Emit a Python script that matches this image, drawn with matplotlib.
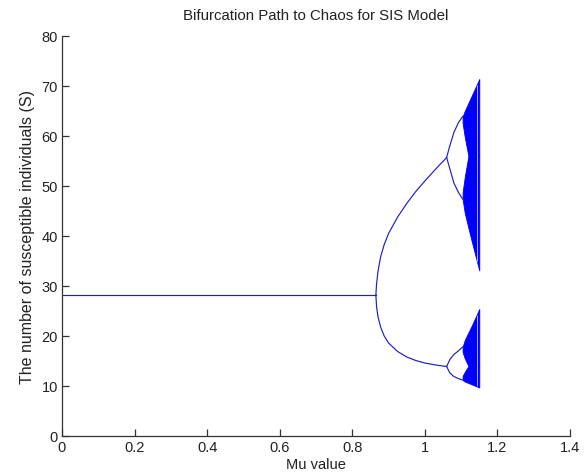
import matplotlib
matplotlib.use("Agg")
import matplotlib.pyplot as plt
import numpy as np

# ---- data ----
mu_flat = [0.0, 0.865]
s_flat = [28.2, 28.2]

mu_p2 = [0.865, 0.867, 0.871, 0.878, 0.888, 0.90, 0.925, 0.95, 0.975, 1.0, 1.03, 1.06]
s_p2_hi = [28.2, 30.5, 33.0, 35.8, 38.3, 40.5, 43.8, 46.5, 48.9, 51.0, 53.4, 55.7]
s_p2_lo = [28.2, 25.8, 23.8, 21.8, 20.0, 18.6, 16.9, 15.8, 15.1, 14.6, 14.2, 13.9]

mu_p4 = [1.06, 1.069, 1.08, 1.092, 1.104]
s_p4_hh = [55.7, 58.1, 60.7, 62.6, 63.9]
s_p4_hl = [55.7, 53.4, 50.6, 48.8, 47.4]
s_p4_lh = [13.9, 15.3, 16.3, 17.0, 17.8]
s_p4_ll = [13.9, 12.6, 11.9, 11.5, 11.2]

mu_ch = [1.104, 1.11, 1.12, 1.13, 1.14, 1.15]
up_top = [63.9, 65.0, 66.6, 68.2, 69.8, 71.4]
up_gap_top = [62.6, 59.8, 56.0, 56.0, 56.0, 56.0]
up_gap_bot = [48.7, 51.8, 56.0, 56.0, 56.0, 56.0]
up_bot = [47.4, 44.6, 41.6, 38.7, 35.9, 33.1]

lo_top = [17.8, 19.2, 20.7, 22.2, 23.8, 25.4]
lo_gap_top = [16.8, 15.5, 14.0, 14.0, 14.0, 14.0]
lo_gap_bot = [12.0, 12.8, 14.0, 14.0, 14.0, 14.0]
lo_bot = [11.2, 10.9, 10.6, 10.3, 10.0, 9.7]

mu_stripe = 1.143

x_ticks = [0, 0.2, 0.4, 0.6, 0.8, 1.0, 1.2, 1.4]
x_labels = ["0", "0.2", "0.4", "0.6", "0.8", "1", "1.2", "1.4"]
y_ticks = [0, 10, 20, 30, 40, 50, 60, 70, 80]

plt.rcParams['font.family'] = ['Liberation Sans', 'DejaVu Sans']

fig = plt.figure(figsize=(5.88, 4.77), dpi=100)
ax = fig.add_axes([62/588, 40/477, 508/588, 400/477])

lc = (0.12, 0.12, 0.78)
lw = 0.85
ax.plot(mu_flat, s_flat, color=lc, lw=lw)
ax.plot(mu_p2, s_p2_hi, color=lc, lw=lw)
ax.plot(mu_p2, s_p2_lo, color=lc, lw=lw)
for s in (s_p4_hh, s_p4_hl, s_p4_lh, s_p4_ll):
    ax.plot(mu_p4, s, color=lc, lw=lw)

fc = (0.0, 0.0, 1.0)
kw = dict(facecolor=fc, edgecolor=fc, lw=0.6)
ax.fill_between(mu_ch, up_gap_top, up_top, **kw)
ax.fill_between(mu_ch, up_bot, up_gap_bot, **kw)
ax.fill_between(mu_ch, lo_gap_top, lo_top, **kw)
ax.fill_between(mu_ch, lo_bot, lo_gap_bot, **kw)

# faint periodic-window stripe visible inside the chaotic bands
ax.vlines([mu_stripe], [np.interp(mu_stripe, mu_ch, up_bot)], [np.interp(mu_stripe, mu_ch, up_top)],
          color='#aab0ff', lw=0.7)
ax.vlines([mu_stripe], [np.interp(mu_stripe, mu_ch, lo_bot)], [np.interp(mu_stripe, mu_ch, lo_top)],
          color='#aab0ff', lw=0.7)

ax.set_xlim(0, 1.4)
ax.set_ylim(0, 80)
ax.set_xticks(x_ticks)
ax.set_xticklabels(x_labels)
ax.set_yticks(y_ticks)
for sp in ('top', 'right'):
    ax.spines[sp].set_visible(False)
for sp in ('left', 'bottom'):
    ax.spines[sp].set_color('#333333')
    ax.spines[sp].set_linewidth(0.9)
ax.tick_params(direction='in', length=5, width=0.9, colors='#333333',
               labelsize=10.5, labelcolor='#222222', pad=3)

ax.set_xlabel("Mu value", fontsize=10.5, color='#222222', labelpad=2)
ax.set_ylabel("The number of susceptible individuals (S)", fontsize=11.5,
              color='#222222', labelpad=5)
ax.set_title("Bifurcation Path to Chaos for SIS Model", fontsize=10.8,
             color='#222222', pad=12)

fig.savefig("out.png", dpi=100)
